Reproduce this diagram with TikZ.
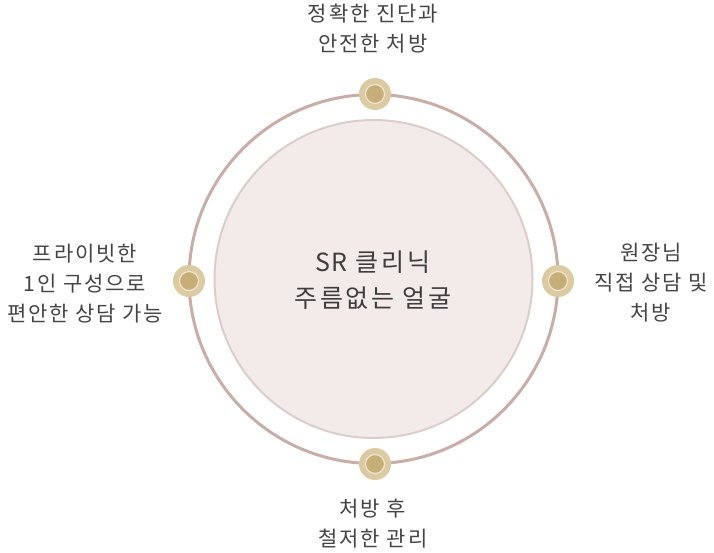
\documentclass[tikz,border=0pt]{standalone}
\usepackage{fontspec}
\setmainfont{Noto Sans CJK KR}
\newfontfamily\lblfont[LetterSpace=9]{Noto Sans CJK KR}
\newfontfamily\ctrfont[LetterSpace=11]{Noto Sans CJK KR}
\newfontfamily\ctrlatin[LetterSpace=2]{Noto Sans CJK KR}
\definecolor{ringc}{HTML}{C9ADA7}
\definecolor{innerfill}{HTML}{F2EBE9}
\definecolor{innerdraw}{HTML}{DDCDCA}
\definecolor{dotout}{HTML}{DCCAA3}
\definecolor{dotin}{HTML}{C7AD77}
\definecolor{dotring}{HTML}{F0E5CC}
\definecolor{txt}{HTML}{444444}
\begin{document}
\begin{tikzpicture}[x=1pt,y=-1pt,
  dotbox/.style={circle,fill=dotout,minimum size=32pt,inner sep=0pt},
  dotcore/.style={circle,fill=dotin,draw=dotring,line width=1.2pt,minimum size=19pt,inner sep=0pt},
  lbl/.style={text=txt,font=\lblfont\fontsize{21}{30}\selectfont,align=center,inner sep=0pt},
  ctr/.style={text=txt!90!black,font=\ctrfont\fontsize{25}{36}\selectfont,align=center,inner sep=0pt}]
\useasboundingbox (0,0) rectangle (714,553);
\coordinate (c) at (373.5,279);
\node[circle,draw=ringc,line width=3pt,minimum size=369pt,inner sep=0pt] (outer) at (c) {};
\node[circle,fill=innerfill,draw=innerdraw,line width=2pt,minimum size=318pt,inner sep=0pt] (inner) at (c) {};
\foreach \n/\p in {top/{(375,94)},left/{(189,281)},right/{(558,281)},bottom/{(375,464)}}{
  \node[dotbox] (d\n) at \p {};
  \node[dotcore] (k\n) at (d\n) {};
}
\node[ctr] (title) at (373,280) {{\ctrlatin\fontsize{25}{36}\selectfont SR} 클리닉\\주름없는 얼굴};
\node[lbl] (ltop) at (373,29) {정확한 진단과\\안전한 처방};
\node[lbl] (lleft) at (85,284) {프라이빗한\\1인 구성으로\\편안한 상담 가능};
\node[lbl] (lright) at (651,283) {원장님\\직접 상담 및\\처방};
\node[lbl] (lbottom) at (373,524) {처방 후\\철저한 관리};
\end{tikzpicture}
\end{document}
